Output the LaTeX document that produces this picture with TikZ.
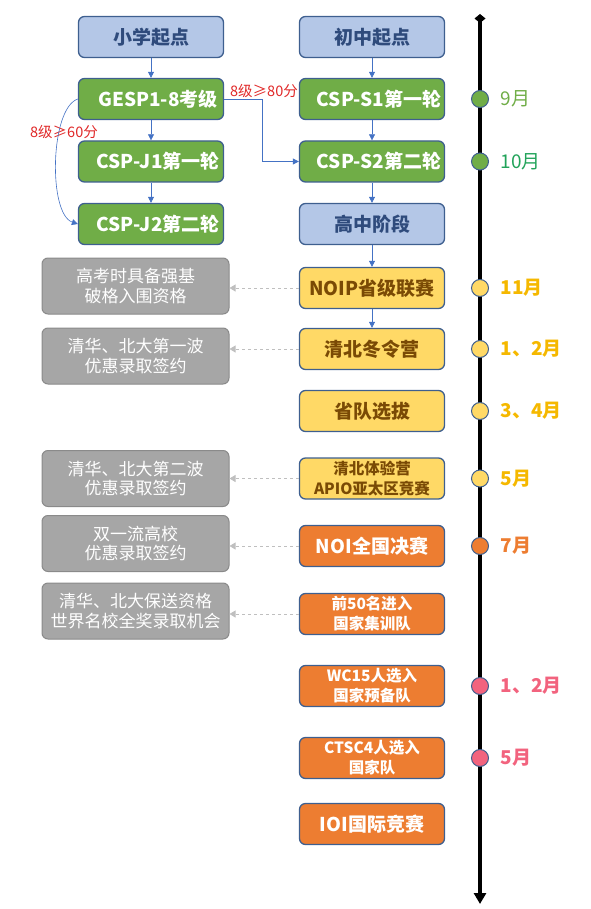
\documentclass[tikz,border=0pt]{standalone}
\usepackage{fontspec}
\setmainfont{Noto Sans CJK SC}
\usetikzlibrary{arrows.meta}
\definecolor{bluefill}{HTML}{B4C7E7}
\definecolor{boxline}{HTML}{3E5F8F}
\definecolor{bluetext}{HTML}{2F4B7C}
\definecolor{greenfill}{HTML}{70AD47}
\definecolor{greenmonth}{HTML}{22A35A}
\definecolor{yellowfill}{HTML}{FFD966}
\definecolor{yellowtext}{HTML}{7A4A05}
\definecolor{goldmonth}{HTML}{F5B800}
\definecolor{orangefill}{HTML}{ED7D31}
\definecolor{greyfill}{HTML}{A6A6A6}
\definecolor{greyline}{HTML}{8A8A8A}
\definecolor{pinkfill}{HTML}{F2637E}
\definecolor{arrowblue}{HTML}{4472C4}
\definecolor{labelred}{HTML}{E02828}
\tikzset{
  stage/.style={draw=boxline,line width=1.3pt,rounded corners=6pt,minimum width=145pt,minimum height=41pt,inner sep=0pt,align=center,font=\fontsize{19}{20}\selectfont\bfseries},
  bluebox/.style={stage,fill=bluefill,text=bluetext},
  greenbox/.style={stage,fill=greenfill,text=white,execute at begin node={\hspace*{14pt}}},
  yellowbox/.style={stage,fill=yellowfill,text=yellowtext},
  orangebox/.style={stage,fill=orangefill,text=white},
  twoline/.style={font=\fontsize{15.5}{20}\selectfont\bfseries},
  gain/.style={draw=greyline,line width=1pt,rounded corners=6pt,fill=greyfill,text=white,minimum width=187pt,minimum height=56pt,inner sep=0pt,align=center,font=\fontsize{17}{19.5}\selectfont},
  dot/.style={draw=boxline,line width=1pt,shape=circle,minimum size=17pt,inner sep=0pt},
  month/.style={anchor=west,font=\fontsize{19}{20}\selectfont},
  boldmonth/.style={month,font=\fontsize{19}{20}\selectfont\bfseries},
  flow/.style={draw=arrowblue,line width=0.6pt,-{Triangle[width=6pt,length=6pt]}},
  hint/.style={draw=black!25,line width=0.8pt,dashed,-{Triangle[width=7pt,length=6pt]}},
  cond/.style={text=labelred,font=\fontsize{14.5}{16}\selectfont}
}
\begin{document}
\begin{tikzpicture}[x=1pt,y=-1pt]
\useasboundingbox (0,0) rectangle (590,909);
\coordinate (top) at (480,14);
\coordinate (bottom) at (480,904);
\draw[line width=3.5pt,{Diamond[width=11pt,length=9pt]}-{Triangle[width=12pt,length=11pt]}] (top)--(bottom);
\node [bluebox,name=primary] at (151,37){小学起点};
\node [greenbox,name=gesp] at (151,99){GESP1-8考级};
\node [greenbox,name=j1] at (151,161.5){CSP-J1第一轮};
\node [greenbox,name=j2] at (151,224){CSP-J2第二轮};
\node [bluebox,name=junior] at (372,37){初中起点};
\node [greenbox,name=s1] at (372,99){CSP-S1第一轮};
\node [greenbox,name=s2] at (372,161.5){CSP-S2第二轮};
\node [bluebox,name=senior] at (372,224){高中阶段};
\node [yellowbox,name=noip] at (372,288){NOIP省级联赛};
\node [yellowbox,name=winter] at (372,349){清北冬令营};
\node [yellowbox,name=prov] at (372,411){省队选拔};
\node [yellowbox,twoline,name=apio] at (372,478.5){清北体验营\\APIO亚太区竞赛};
\node [orangebox,name=noi] at (372,546){NOI全国决赛};
\node [orangebox,twoline,name=top50] at (372,614){前50名进入\\国家集训队};
\node [orangebox,twoline,name=wc] at (372,686){WC15人选入\\国家预备队};
\node [orangebox,twoline,name=ctsc] at (372,758){CTSC4人选入\\国家队};
\node [orangebox,name=ioi] at (372,824){IOI国际竞赛};
\node [gain,name=g1] at (135.5,286){高考时具备强基\\破格入围资格};
\node [gain,name=g2] at (135.5,356){清华、北大第一波\\优惠录取签约};
\node [gain,name=g3] at (135.5,478.5){清华、北大第二波\\优惠录取签约};
\node [gain,name=g4] at (135.5,543.5){双一流高校\\优惠录取签约};
\node [gain,name=g5] at (135.5,611){清华、北大保送资格\\世界名校全奖录取机会};
\node [dot,fill=greenfill,name=d1] at (480,99){};
\node [dot,fill=greenfill,name=d2] at (480,161.5){};
\node [dot,fill=yellowfill,name=d3] at (480,288){};
\node [dot,fill=yellowfill,name=d4] at (480,349){};
\node [dot,fill=yellowfill,name=d5] at (480,411){};
\node [dot,fill=yellowfill,name=d6] at (480,478.5){};
\node [dot,fill=orangefill,name=d7] at (480,546){};
\node [dot,fill=pinkfill,name=d8] at (480,686){};
\node [dot,fill=pinkfill,name=d9] at (480,758){};
\node [month,text=greenfill,name=m1] at (497,99){9月};
\node [month,text=greenmonth,name=m2] at (497,161.5){10月};
\node [boldmonth,text=goldmonth,name=m3] at (497,288){11月};
\node [boldmonth,text=goldmonth,name=m4] at (497,349){1、2月};
\node [boldmonth,text=goldmonth,name=m5] at (497,411){3、4月};
\node [boldmonth,text=goldmonth,name=m6] at (497,478.5){5月};
\node [boldmonth,text=orangefill,name=m7] at (497,546){7月};
\node [boldmonth,text=pinkfill,name=m8] at (497,686){1、2月};
\node [boldmonth,text=pinkfill,name=m9] at (497,758){5月};
\node [cond,name=c80] at (264,91){8级≥80分};
\node [cond,name=c60] at (64,132){8级≥60分};
\coordinate (bend) at (262,99);
\draw[flow] (primary)--(gesp);
\draw[flow] (gesp)--(j1);
\draw[flow] (j1)--(j2);
\draw[flow] (junior)--(s1);
\draw[flow] (s1)--(s2);
\draw[flow] (s2)--(senior);
\draw[flow] (senior)--(noip);
\draw[flow] (noip)--(winter);
\draw[flow] (gesp.east)--(bend)|-(s2.west);
\draw[flow] (gesp.west) .. controls (50,108) and (48,214) .. (j2.west);
\draw[hint] (noip.west)--(noip.west-|g1.east);
\draw[hint] (winter.west)--(winter.west-|g2.east);
\draw[hint] (apio.west)--(apio.west-|g3.east);
\draw[hint] (noi.west)--(noi.west-|g4.east);
\draw[hint] (top50.west)--(top50.west-|g5.east);
\end{tikzpicture}
\end{document}
